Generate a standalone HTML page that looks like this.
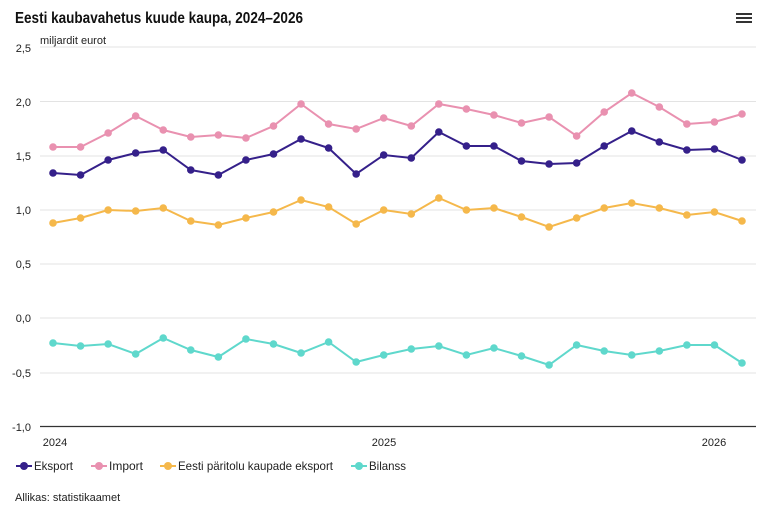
<!DOCTYPE html>
<html><head><meta charset="utf-8"><style>
body{margin:0;background:#fff;font-family:"Liberation Sans",sans-serif}
</style></head><body>
<svg width="768" height="512" xmlns="http://www.w3.org/2000/svg" font-family="Liberation Sans, sans-serif">
<text x="15" y="23" font-size="15.5" font-weight="bold" fill="#111" textLength="288" lengthAdjust="spacingAndGlyphs">Eesti kaubavahetus kuude kaupa, 2024–2026</text>
<g fill="#333"><rect x="736" y="13" width="16" height="2"/><rect x="736" y="17" width="16" height="2"/><rect x="736" y="21" width="16" height="2"/></g>
<text x="40" y="44" font-size="11" fill="#222">miljardit eurot</text>
<g stroke="#e3e3e3" stroke-width="1">
<line x1="40" x2="756" y1="47" y2="47"/><line x1="40" x2="756" y1="101.5" y2="101.5"/><line x1="40" x2="756" y1="156" y2="156"/><line x1="40" x2="756" y1="210" y2="210"/><line x1="40" x2="756" y1="264" y2="264"/><line x1="40" x2="756" y1="318" y2="318"/><line x1="40" x2="756" y1="373" y2="373"/>
</g>
<line x1="40" x2="756" y1="426.5" y2="426.5" stroke="#333" stroke-width="1.3"/>
<g font-size="11" fill="#222" text-anchor="end">
<text x="31" y="52">2,5</text><text x="31" y="106">2,0</text><text x="31" y="160">1,5</text><text x="31" y="214">1,0</text><text x="31" y="268">0,5</text><text x="31" y="322">0,0</text><text x="31" y="377">-0,5</text><text x="31" y="431">-1,0</text>
</g>
<g font-size="11" fill="#222" text-anchor="middle">
<text x="55" y="446">2024</text><text x="384" y="446">2025</text><text x="714" y="446">2026</text>
</g>
<g id="series"></g>
<g font-size="12" fill="#222">
<line x1="16" x2="32" y1="466" y2="466" stroke="#35208a" stroke-width="2"/><circle cx="24" cy="466" r="4" fill="#35208a"/><text x="34" y="470" textLength="39" lengthAdjust="spacingAndGlyphs">Eksport</text>
<line x1="91" x2="107" y1="466" y2="466" stroke="#e991b0" stroke-width="2"/><circle cx="99" cy="466" r="4" fill="#e991b0"/><text x="109" y="470" textLength="34" lengthAdjust="spacingAndGlyphs">Import</text>
<line x1="160" x2="176" y1="466" y2="466" stroke="#f5b84b" stroke-width="2"/><circle cx="168" cy="466" r="4" fill="#f5b84b"/><text x="178" y="470" textLength="155" lengthAdjust="spacingAndGlyphs">Eesti päritolu kaupade eksport</text>
<line x1="351" x2="367" y1="466" y2="466" stroke="#5fd8cc" stroke-width="2"/><circle cx="359" cy="466" r="4" fill="#5fd8cc"/><text x="369" y="470" textLength="37" lengthAdjust="spacingAndGlyphs">Bilanss</text>
</g>
<text x="15" y="501" font-size="11" fill="#222">Allikas: statistikaamet</text>
</svg>
<script>
const S=[
["#e991b0",[147,147,133,116,130,137,135,138,126,104,124,129,118,126,104,109,115,123,117,136,112,93,107,124,122,114]],
["#35208a",[173,175,160,153,150,170,175,160,154,139,148,174,155,158,132,146,146,161,164,163,146,131,142,150,149,160]],
["#f5b84b",[223,218,210,211,208,221,225,218,212,200,207,224,210,214,198,210,208,217,227,218,208,203,208,215,212,221]],
["#5fd8cc",[343,346,344,354,338,350,357,339,344,353,342,362,355,349,346,355,348,356,365,345,351,355,351,345,345,363]]];
let h="";
for(const[c,ys]of S){const p=ys.map((y,i)=>[53+i*27.56,y]);
h+=`<polyline fill="none" stroke="${c}" stroke-width="2" points="${p.map(a=>a.join(',')).join(' ')}"/>`;
for(const[x,y]of p)h+=`<circle cx="${x}" cy="${y}" r="3.8" fill="${c}"/>`;}
document.getElementById("series").innerHTML=h;
</script>
</body></html>
